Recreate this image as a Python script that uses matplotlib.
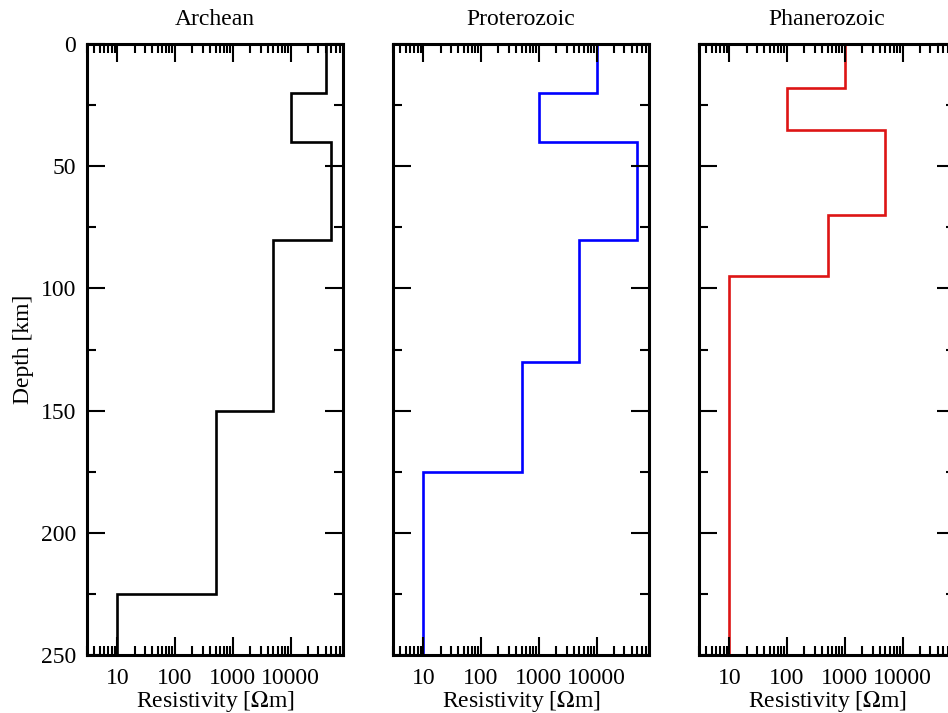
import numpy as np
import matplotlib
matplotlib.use("Agg")
import matplotlib.pyplot as plt
from matplotlib.ticker import LogLocator, MultipleLocator, NullFormatter

plt.rcParams['font.family'] = ['Liberation Serif', 'DejaVu Serif']
plt.rcParams['mathtext.fontset'] = 'stix'

# layer boundaries (km) and resistivity (Ohm m) for each province
titles = ['Archean', 'Proterozoic', 'Phanerozoic']
archean_depth = [0, 20, 40, 80, 150, 225, 250]
archean_rho = [40000, 10000, 50000, 5000, 500, 10]
proterozoic_depth = [0, 20, 40, 80, 130, 175, 250]
proterozoic_rho = [10000, 1000, 50000, 5000, 500, 10]
phanerozoic_depth = [0, 18, 35, 70, 95, 250]
phanerozoic_rho = [1000, 100, 5000, 500, 10]

profiles = [(archean_depth, archean_rho, 'black'),
            (proterozoic_depth, proterozoic_rho, '#0000ff'),
            (phanerozoic_depth, phanerozoic_rho, '#dd1515')]

x_ticks = [10, 100, 1000, 10000]
x_tick_labels = ['10', '100', '1000', '10000']

W, H = 948, 713
fig = plt.figure(figsize=(W / 100, H / 100), dpi=100)

lefts = [87, 393, 699]
top, bottom, width = 44, 655, 256
fs = 17

for i, (depth, rho, color) in enumerate(profiles):
    ax = fig.add_axes([lefts[i] / W, 1 - bottom / H, width / W, (bottom - top) / H])
    ax.stairs(rho, depth, orientation='horizontal', baseline=None,
              color=color, linewidth=1.9)
    ax.set_xscale('log')
    ax.set_xlim(3, 8e4)
    ax.set_ylim(250, 0)

    ax.set_xticks(x_ticks, x_tick_labels)
    ax.xaxis.set_minor_locator(LogLocator(base=10, subs=np.arange(2, 10), numticks=30))
    ax.xaxis.set_minor_formatter(NullFormatter())
    ax.yaxis.set_major_locator(MultipleLocator(50))
    ax.yaxis.set_minor_locator(MultipleLocator(25))

    ax.tick_params(which='both', direction='in', top=True, right=True,
                   width=1.5, labelsize=fs)
    ax.tick_params(which='major', length=13)
    ax.tick_params(axis='x', which='major', pad=9)
    ax.tick_params(axis='y', which='major', pad=8)
    ax.tick_params(which='minor', length=6.5)
    for s in ax.spines.values():
        s.set_linewidth(2.2)

    ax.set_title(titles[i], fontsize=fs, pad=14)
    ax.set_xlabel('Resistivity [$\\Omega$m]', fontsize=fs, labelpad=0)
    if i == 0:
        ax.set_ylabel('Depth [km]', fontsize=fs, labelpad=5)
    else:
        ax.tick_params(axis='y', labelleft=False)

fig.savefig('out.png', dpi=100)
